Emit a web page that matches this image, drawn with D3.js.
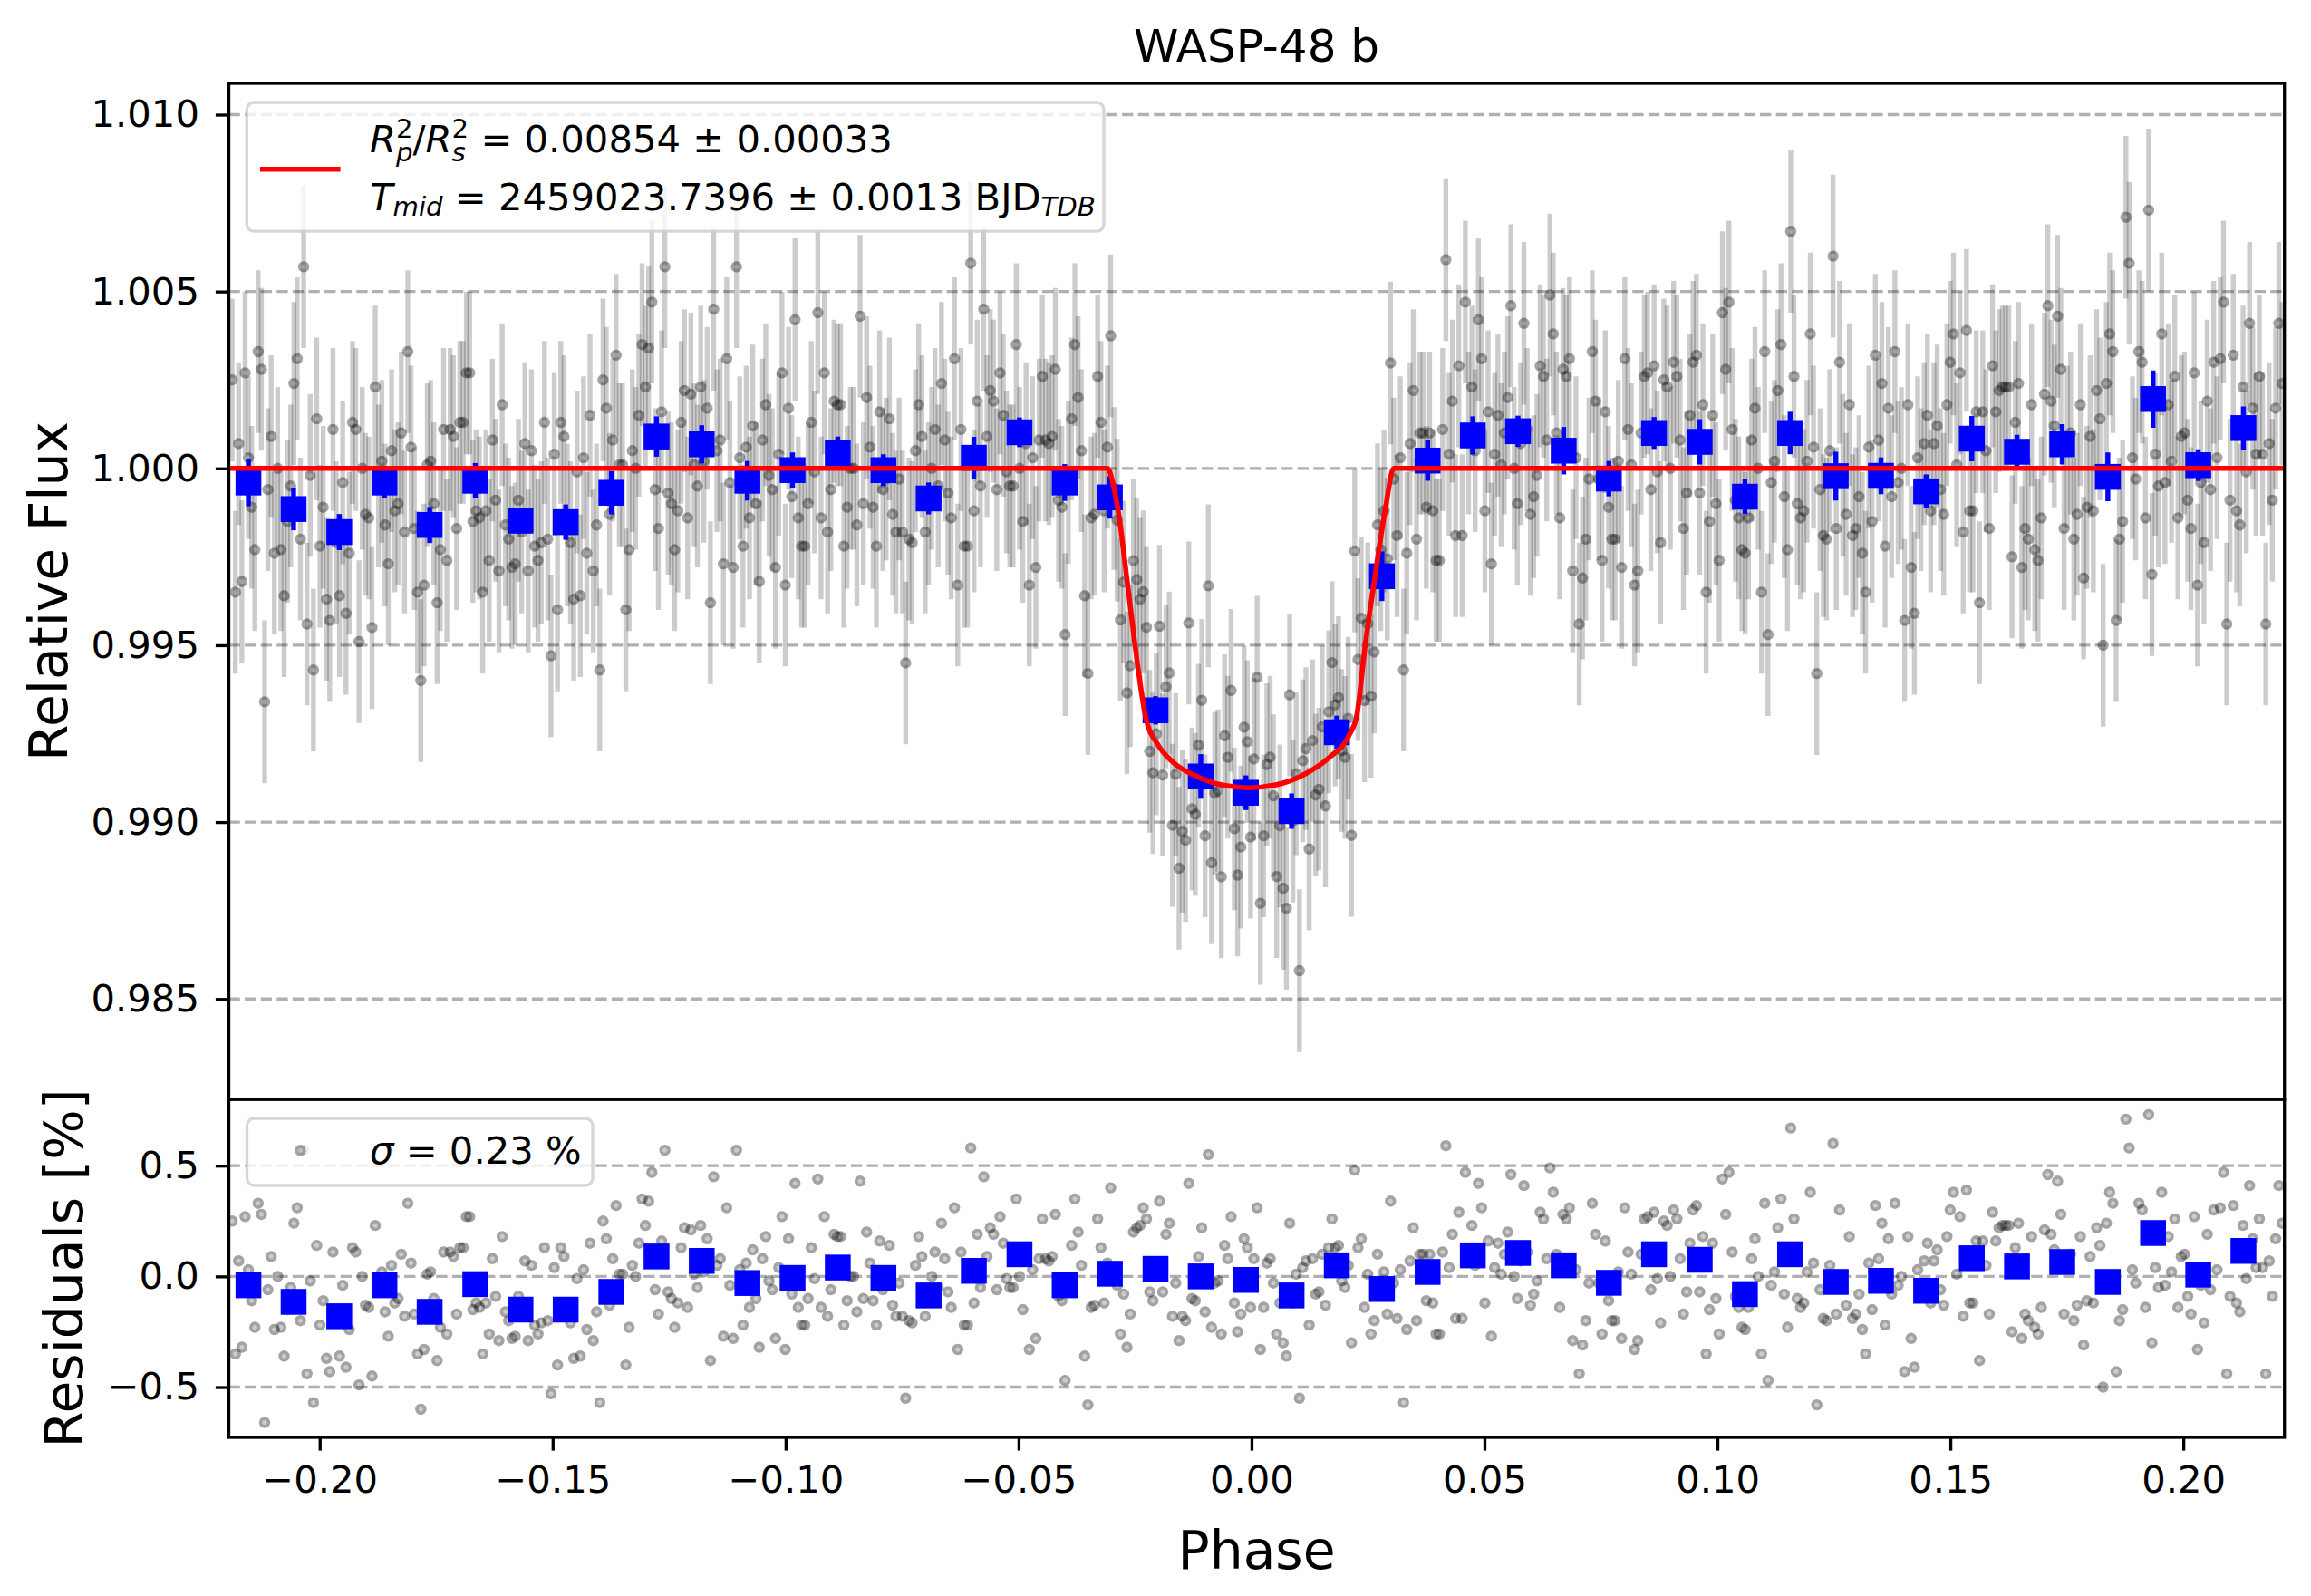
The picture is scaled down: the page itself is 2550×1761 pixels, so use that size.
<!DOCTYPE html>
<html>
<head>
<meta charset="utf-8">
<title>WASP-48 b</title>
<style>
  body { margin: 0; background: #fff; }
  svg text { font-family: "DejaVu Sans", sans-serif; fill: #000; }
</style>
</head>
<body>
<script src="https://d3js.org/d3.v7.min.js"></script>
<script>
// ---- data ----
// residuals of the unbinned points, in percent, left to right
var residuals = [
  // -0.219 .. -0.133
  0.25,-0.35,0.07,-0.32,0.27,0.03,-0.11,-0.23,0.33,0.28,
  -0.66,-0.06,0.09,-0.24,0.00,-0.23,-0.36,-0.15,-0.05,0.24,
  0.31,-0.20,0.57,-0.44,-0.02,-0.57,0.14,-0.22,-0.11,-0.37,
  -0.43,0.11,-0.21,-0.36,-0.04,-0.41,-0.24,0.13,0.11,-0.49,
  0.00,-0.13,-0.14,-0.45,0.23,-0.05,0.02,-0.16,-0.27,0.05,
  -0.12,-0.10,0.10,-0.18,0.33,0.06,-0.17,-0.35,-0.60,-0.33,
  0.01,0.02,-0.10,-0.38,-0.23,0.11,-0.26,0.11,0.09,-0.17,
  0.13,0.13,0.27,0.27,-0.15,-0.12,-0.14,-0.35,-0.12,-0.26,
  0.08,-0.09,-0.29,0.18,-0.16,-0.20,-0.28,-0.27,-0.09,-0.18,
  0.07,-0.29,0.05,-0.22,-0.26,-0.21,0.13,-0.20,-0.53,0.04,
  -0.40,0.13,0.09,-0.16,-0.21,-0.37,-0.01,-0.36,0.03,-0.24,
  0.15,-0.29,-0.16,-0.57,0.25,0.17,-0.13,0.08,0.32,0.01,
  0.01,-0.40,-0.23,0.05,0.00,0.15,0.35,
  // -0.131 .. -0.041
  0.23,0.34,0.47,-0.06,-0.17,0.16,0.57,-0.07,-0.10,-0.23,
  -0.12,0.13,0.22,-0.14,0.21,0.01,-0.05,0.23,0.02,0.17,
  -0.38,0.45,0.05,0.08,-0.27,0.31,-0.04,-0.28,0.57,0.03,
  -0.22,0.06,-0.14,0.12,-0.10,-0.32,0.08,0.18,-0.02,-0.06,
  -0.28,0.04,0.27,-0.33,0.17,-0.08,0.42,-0.14,-0.22,-0.22,
  -0.10,0.13,-0.01,0.44,-0.14,0.27,-0.18,-0.06,0.19,0.18,
  0.18,-0.22,-0.11,0.00,0.00,-0.16,0.43,-0.10,0.20,0.06,
  -0.11,-0.22,0.16,-0.06,-0.03,0.14,-0.13,-0.18,-0.03,-0.18,
  -0.55,-0.20,-0.21,0.05,0.18,0.09,-0.18,-0.10,0.00,0.11,
  -0.05,0.24,0.08,-0.07,-0.14,0.31,-0.33,0.11,-0.22,-0.22,
  0.58,-0.12,0.19,-0.05,0.45,0.09,0.22,0.19,-0.06,0.27,
  0.15,-0.01,-0.05,-0.05,0.35,0.00,-0.15,0.07,-0.33,0.03,
  -0.28,0.08,0.26,0.08,
  // -0.040 .. 0.051
  0.07,0.09,0.28,-0.09,-0.11,-0.47,-0.04,0.14,0.35,0.20,
  0.05,-0.36,-0.58,-0.14,-0.13,0.26,0.13,-0.12,0.06,0.40,
  0.00,-0.04,-0.26,-0.08,-0.32,-0.17,0.20,0.22,0.23,0.31,
  0.26,-0.07,-0.11,0.02,0.34,-0.07,0.19,0.24,-0.18,-0.03,
  -0.29,-0.18,-0.20,0.42,-0.10,-0.11,0.09,0.22,-0.16,0.55,
  -0.23,-0.03,-0.02,-0.26,0.14,0.08,0.27,-0.12,-0.25,-0.17,
  0.17,0.13,-0.14,0.08,0.31,-0.33,-0.14,0.06,0.08,-0.03,
  -0.26,-0.12,-0.30,-0.36,0.24,-0.12,0.01,-0.55,0.04,0.07,
  -0.22,0.08,-0.08,-0.07,0.10,-0.13,0.13,0.26,0.13,0.14,
  -0.02,-0.05,0.05,-0.30,0.48,0.13,0.17,-0.14,0.01,-0.26,
  -0.20,0.10,-0.03,0.02,-0.17,0.34,-0.03,-0.19,0.03,-0.57,
  -0.24,0.07,0.22,-0.20,0.10,0.10,-0.11,0.10,-0.12,-0.26,
  -0.26,0.11,0.59,0.04,0.19,-0.19,0.29,-0.19,0.47,0.10,
  0.23,0.05,0.42,0.31,-0.12,0.16,-0.27,
  // 0.052 .. 0.141
  0.04,0.15,0.01,0.10,0.20,0.46,0.00,-0.10,0.07,0.41,
  0.11,-0.13,-0.08,-0.02,0.29,0.26,0.08,0.49,0.38,0.10,
  -0.14,0.28,0.26,0.31,-0.29,0.03,-0.44,-0.31,-0.20,-0.03,
  0.33,0.19,-0.03,-0.26,0.16,-0.11,-0.20,-0.20,0.02,-0.28,
  0.31,0.11,0.01,-0.33,-0.29,0.10,0.26,0.27,-0.06,0.29,
  -0.01,-0.21,0.25,0.23,0.00,0.30,0.26,0.08,-0.17,-0.07,
  0.15,0.30,0.32,-0.07,0.18,-0.35,-0.15,0.15,-0.10,-0.26,
  0.44,0.28,0.47,0.11,-0.09,-0.14,-0.23,-0.24,-0.14,0.08,
  0.17,0.00,-0.35,0.33,-0.47,-0.04,0.02,0.22,0.35,-0.08,
  -0.23,0.67,0.26,-0.10,-0.14,-0.12,0.02,0.38,0.06,-0.58,
  -0.06,-0.19,-0.20,0.05,0.60,-0.17,0.30,-0.02,-0.13,0.18,
  -0.19,-0.17,-0.08,-0.24,-0.35,0.06,-0.15,0.32,0.08,0.24,
  -0.22,0.17,-0.08,0.33,-0.04,0.00,-0.43,0.18,-0.28,
  // 0.142 .. 0.221
  -0.41,0.03,-0.06,0.07,0.15,-0.12,0.07,0.12,-0.06,-0.13,
  0.18,0.30,0.38,0.01,0.27,-0.18,0.39,-0.12,-0.12,0.16,
  -0.38,0.16,0.05,-0.17,0.29,0.16,0.22,0.23,0.23,0.23,
  -0.25,0.13,0.24,-0.28,-0.17,-0.20,0.18,-0.23,-0.26,-0.14,
  0.21,0.46,0.19,0.12,0.43,0.28,-0.17,0.06,0.10,-0.20,
  -0.13,0.18,-0.31,-0.11,0.09,-0.12,0.22,0.14,-0.50,0.24,
  0.38,0.33,-0.43,-0.20,-0.15,0.71,0.58,0.03,-0.03,0.33,
  0.30,-0.14,0.73,-0.30,0.04,-0.05,0.38,-0.04,0.18,0.02,
  0.26,-0.14,0.09,0.10,-0.09,-0.17,0.27,-0.33,-0.04,-0.21,
  0.19,-0.06,0.30,0.03,0.31,0.47,-0.44,-0.09,0.32,-0.12,
  -0.16,0.23,-0.01,0.41,0.17,0.04,0.26,0.04,-0.44,0.07,
  -0.09,0.17,0.41,0.24
];
// the points are taken at a fixed cadence between these phases
var firstPhase = -0.2188, lastPhase = 0.2212;
var pointErr = 0.0023;   // flux error bar of every point

// transit model curve
var modelPhase = [-0.2195,-0.0309,-0.0297,-0.0285,-0.0264,-0.0243,-0.0227,-0.0201,-0.0169,-0.0117,-0.0064,-0.0006,
                  0.0052,0.0115,0.0168,0.0210,0.0226,0.0244,0.0263,0.0289,0.0305,0.2217];
var modelFlux  = [1.0,1.0,0.99955,0.9987,0.9965,0.9943,0.99295,0.99219,0.9917,0.99129,0.99105,0.99097,
                  0.99105,0.99136,0.99184,0.99247,0.99302,0.9950,0.99677,0.99899,1.0,1.0];

// binned points
var binPhase = [-0.2153,-0.2056,-0.1958,-0.1861,-0.1764,-0.1666,-0.1569,-0.1472,-0.1374,-0.1277,-0.1180,-0.1082,
                -0.0985,-0.0888,-0.0790,-0.0693,-0.0596,-0.0498,-0.0401,-0.0304,-0.0206,-0.0109,-0.0012,0.0086,
                0.0183,0.0280,0.0378,0.0475,0.0572,0.0670,0.0767,0.0864,0.0962,0.1059,0.1156,0.1254,0.1351,
                0.1448,0.1546,0.1643,0.1740,0.1838,0.1935,0.2032,0.2129];
var binFlux = [0.99960,0.99885,0.99820,0.99960,0.99840,0.99965,0.99852,0.99848,0.99931,1.00090,1.00068,0.99965,
               0.99995,1.00043,0.99995,0.99915,1.00030,1.00102,0.99960,0.99918,0.99316,0.99129,0.99083,0.99031,
               0.99254,0.99695,1.00022,1.00093,1.00105,1.00050,0.99971,1.00100,1.00075,0.99920,1.00100,0.99978,
               0.99979,0.99935,1.00084,1.00047,1.00068,0.99976,1.00196,1.00009,1.00114];
var binErr = [0.00067,0.00060,0.00051,0.00043,0.00051,0.00050,0.00036,0.00050,0.00061,0.00057,0.00054,0.00056,
              0.00050,0.00047,0.00045,0.00045,0.00059,0.00042,0.00052,0.00060,0.00040,0.00063,0.00049,0.00050,
              0.00047,0.00070,0.00057,0.00054,0.00044,0.00067,0.00050,0.00045,0.00064,0.00049,0.00060,0.00069,
              0.00052,0.00048,0.00064,0.00048,0.00057,0.00069,0.00081,0.00045,0.00061];
var binResid = [-0.04,-0.115,-0.18,-0.04,-0.16,-0.035,-0.15,-0.15,-0.07,0.09,0.07,-0.03,
                -0.007,0.04,-0.007,-0.086,0.025,0.10,-0.04,0.012,0.034,0.0,-0.016,-0.086,
                0.05,-0.057,0.02,0.095,0.106,0.05,-0.029,0.10,0.075,-0.08,0.10,-0.025,
                -0.02,-0.065,0.082,0.045,0.065,-0.025,0.196,0.008,0.115];

// tick values
var phaseTicks = [-0.20,-0.15,-0.10,-0.05,0.00,0.05,0.10,0.15,0.20];
var fluxTicks = [0.985,0.990,0.995,1.000,1.005,1.010];
var residTicks = [-0.5,0.0,0.5];

// ---- layout ----
var width = 2550, height = 1761;
var left = 252.5, right = 2520.7, top1 = 92, bot1 = 1213, bot2 = 1586;
var fs = 41.7, lw = 3.33;
var dotOuter = 6.2, dotRing = 4.4, dotRingW = 3.6, dotA = 0.2;

var x = d3.scaleLinear().domain([-0.2195, 0.2217]).range([left, right]);
var yTop = d3.scaleLinear().domain([0.982162, 1.010884]).range([bot1, top1]);
var yBot = d3.scaleLinear().domain([-0.727, 0.7995]).range([bot2, bot1]);
var model = d3.scaleLinear().domain(modelPhase).range(modelFlux);

var step = (lastPhase - firstPhase) / (residuals.length - 1);
var points = residuals.map(function (r, i) {
  var p = firstPhase + i * step;
  return {phase: p, resid: r, flux: model(p) + r / 100};
});
var bins = binPhase.map(function (p, i) {
  return {phase: p, flux: binFlux[i], err: binErr[i], resid: binResid[i]};
});

var svg = d3.select("body").append("svg")
    .attr("width", width)
    .attr("height", height);
svg.append("rect").attr("width", width).attr("height", height).attr("fill", "#fff");

var defs = svg.append("defs");
defs.append("clipPath").attr("id", "clipTop").append("rect")
    .attr("x", left).attr("y", top1).attr("width", right - left).attr("height", bot1 - top1);
defs.append("clipPath").attr("id", "clipBot").append("rect")
    .attr("x", left).attr("y", bot1).attr("width", right - left).attr("height", bot2 - bot1);

// grids
function grid(scale, ticks) {
  svg.append("g").selectAll("line").data(ticks).enter().append("line")
    .attr("x1", left).attr("x2", right)
    .attr("y1", function (d) { return scale(d); })
    .attr("y2", function (d) { return scale(d); })
    .attr("stroke", "#b0b0b0").attr("stroke-width", lw)
    .attr("stroke-dasharray", "12.3,5.3");
}
grid(yTop, fluxTicks);
grid(yBot, residTicks);

// translucent circle marker: a faint disc with a darker ring
function marker(sel) {
  sel.append("circle").attr("r", dotOuter)
    .attr("fill", "#000").attr("fill-opacity", dotA);
  sel.append("circle").attr("r", dotRing)
    .attr("fill", "none")
    .attr("stroke", "#000").attr("stroke-opacity", dotA).attr("stroke-width", dotRingW);
}
function dots(g, data, cy) {
  g.append("g").selectAll("g").data(data).enter().append("g")
    .attr("transform", function (d) { return "translate(" + x(d.phase) + "," + cy(d) + ")"; })
    .call(marker);
}

// ---- top panel ----
var gTop = svg.append("g").attr("clip-path", "url(#clipTop)");

gTop.append("g").selectAll("line").data(points).enter().append("line")
  .attr("x1", function (d) { return x(d.phase); })
  .attr("x2", function (d) { return x(d.phase); })
  .attr("y1", function (d) { return yTop(d.flux - pointErr); })
  .attr("y2", function (d) { return yTop(d.flux + pointErr); })
  .attr("stroke", "#000").attr("stroke-opacity", 0.2).attr("stroke-width", 5.4);

dots(gTop, points, function (d) { return yTop(d.flux); });

gTop.append("g").selectAll("line").data(bins).enter().append("line")
  .attr("x1", function (d) { return x(d.phase); })
  .attr("x2", function (d) { return x(d.phase); })
  .attr("y1", function (d) { return yTop(d.flux - d.err); })
  .attr("y2", function (d) { return yTop(d.flux + d.err); })
  .attr("stroke", "#0000ff").attr("stroke-width", 5.4);

var sq = 28.5;
gTop.append("g").selectAll("rect").data(bins).enter().append("rect")
  .attr("x", function (d) { return x(d.phase) - sq / 2; })
  .attr("y", function (d) { return yTop(d.flux) - sq / 2; })
  .attr("width", sq).attr("height", sq)
  .attr("fill", "#0000ff");

var modelLine = d3.line()
  .x(function (d) { return x(d[0]); })
  .y(function (d) { return yTop(d[1]); })
  .curve(d3.curveMonotoneX);
gTop.append("path")
  .datum(modelPhase.map(function (p, i) { return [p, modelFlux[i]]; }))
  .attr("d", modelLine)
  .attr("fill", "none").attr("stroke", "#ff0000").attr("stroke-width", 5.6);

// ---- bottom panel ----
var gBot = svg.append("g").attr("clip-path", "url(#clipBot)");
dots(gBot, points, function (d) { return yBot(d.resid); });
gBot.append("g").selectAll("rect").data(bins).enter().append("rect")
  .attr("x", function (d) { return x(d.phase) - sq / 2; })
  .attr("y", function (d) { return yBot(d.resid) - sq / 2; })
  .attr("width", sq).attr("height", sq)
  .attr("fill", "#0000ff");

// ---- axes ----
function styleAxis(g) {
  g.select(".domain").remove();
  g.selectAll(".tick line").attr("stroke", "#000").attr("stroke-width", lw);
  g.selectAll(".tick text").style("font-size", fs + "px").attr("fill", "#000");
}
svg.append("g").attr("transform", "translate(" + left + ",0)")
  .call(d3.axisLeft(yTop).tickValues(fluxTicks).tickFormat(d3.format(".3f")).tickSize(14.6).tickPadding(18))
  .call(styleAxis);
svg.append("g").attr("transform", "translate(" + left + ",0)")
  .call(d3.axisLeft(yBot).tickValues(residTicks).tickFormat(d3.format(".1f")).tickSize(14.6).tickPadding(18))
  .call(styleAxis);
svg.append("g").attr("transform", "translate(0," + bot2 + ")")
  .call(d3.axisBottom(x).tickValues(phaseTicks).tickFormat(d3.format(".2f")).tickSize(14.6).tickPadding(17))
  .call(styleAxis);

// spines
[[top1, bot1], [bot1, bot2]].forEach(function (p) {
  svg.append("rect").attr("x", left).attr("y", p[0])
    .attr("width", right - left).attr("height", p[1] - p[0])
    .attr("fill", "none").attr("stroke", "#000").attr("stroke-width", lw);
});

// labels
svg.append("text").attr("x", (left + right) / 2).attr("y", 68)
  .attr("text-anchor", "middle").style("font-size", "50px").text("WASP-48 b");
svg.append("text").attr("x", (left + right) / 2).attr("y", 1731)
  .attr("text-anchor", "middle").style("font-size", "58.3px").text("Phase");
svg.append("text").attr("transform", "translate(74," + (top1 + bot1) / 2 + ") rotate(-90)")
  .attr("text-anchor", "middle").style("font-size", "58.3px").text("Relative Flux");
svg.append("text").attr("transform", "translate(91," + (bot1 + bot2) / 2 + ") rotate(-90)")
  .attr("text-anchor", "middle").style("font-size", "58.3px").text("Residuals [%]");

// ---- legends ----
// lays out a line of mathtext-like runs; a run with sub and sup stacks them
function mathLine(g, x0, y0, runs) {
  var cx = x0;
  runs.forEach(function (r) {
    if (r.sub !== undefined && r.sup !== undefined) {
      var a = g.append("text").attr("x", cx).attr("y", y0 + fs * 0.24)
        .style("font-size", fs * 0.7 + "px").style("font-style", "italic").text(r.sub);
      var b = g.append("text").attr("x", cx).attr("y", y0 - fs * 0.4)
        .style("font-size", fs * 0.7 + "px").text(r.sup);
      cx += Math.max(a.node().getComputedTextLength(), b.node().getComputedTextLength());
    } else {
      var s = r.small ? 0.7 : 1;
      var t = g.append("text").attr("x", cx).attr("y", y0 + (r.small ? fs * 0.15 : 0))
        .style("font-size", fs * s + "px")
        .style("font-style", r.it ? "italic" : "normal")
        .text(r.t);
      cx += t.node().getComputedTextLength();
    }
  });
}

var leg1 = svg.append("g");
leg1.append("rect").attr("x", 272.3).attr("y", 113).attr("width", 945.7).attr("height", 142.2)
  .attr("rx", 8).attr("fill", "#fff").attr("fill-opacity", 0.8)
  .attr("stroke", "#cccccc").attr("stroke-opacity", 0.8).attr("stroke-width", lw);
leg1.append("line").attr("x1", 287).attr("x2", 375.6).attr("y1", 186.8).attr("y2", 186.8)
  .attr("stroke", "#ff0000").attr("stroke-width", 5.6);
mathLine(leg1, 408, 168.4, [
  {t: "R", it: true}, {sub: "p", sup: "2"}, {t: "/"}, {t: "R", it: true}, {sub: "s", sup: "2"},
  {t: "\u00a0=\u00a00.00854\u00a0\u00b1\u00a00.00033"}
]);
mathLine(leg1, 408, 231.6, [
  {t: "T", it: true}, {t: "mid", it: true, small: true},
  {t: "\u00a0=\u00a02459023.7396\u00a0\u00b1\u00a00.0013\u00a0BJD"}, {t: "TDB", it: true, small: true}
]);

var leg2 = svg.append("g");
leg2.append("rect").attr("x", 272.5).attr("y", 1234).attr("width", 381.5).attr("height", 74)
  .attr("rx", 8).attr("fill", "#fff").attr("fill-opacity", 0.8)
  .attr("stroke", "#cccccc").attr("stroke-opacity", 0.8).attr("stroke-width", lw);
leg2.append("g").attr("transform", "translate(331.4,1269.3)").call(marker);
mathLine(leg2, 408, 1283.6, [{t: "\u03c3", it: true}, {t: "\u00a0=\u00a00.23\u00a0%"}]);
</script>
</body>
</html>
